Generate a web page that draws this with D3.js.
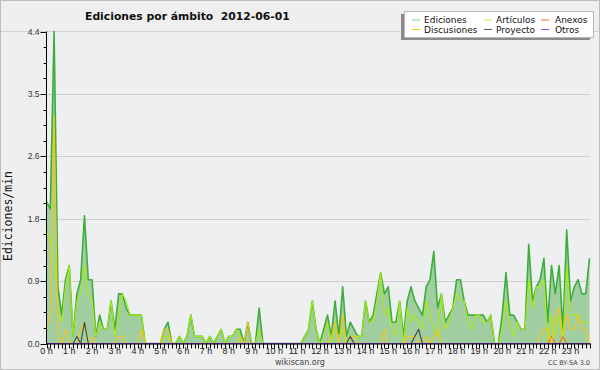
<!DOCTYPE html>
<html><head><meta charset="utf-8">
<script src="https://cdn.jsdelivr.net/npm/d3@7"></script>
<style>html,body{margin:0;padding:0;background:#efefef;} svg{display:block;}</style>
</head><body><svg id="c" width="600" height="370"></svg>
<script>
const chartTitle = "Ediciones por ámbito  2012-06-01";
const yAxisTitle = "Ediciones/min";
const hourLabels = ["0 h","1 h","2 h","3 h","4 h","5 h","6 h","7 h","8 h","9 h","10 h","11 h","12 h","13 h","14 h","15 h","16 h","17 h","18 h","19 h","20 h","21 h","22 h","23 h"];
const yTickLabels = ["0.0","0.9","1.8","2.6","3.5","4.4"];
const yMax = 4.4;
const seriesNames = ["Ediciones","Artículos","Anexos","Discusiones","Proyecto","Otros"];

// 10-minute slots, 144 per day (edits per minute)
const ediciones = [
2.0,1.9,4.4,0.8,0.4,0.9,1.1,0.1,0.7,0.9,
1.8,0.9,0.9,0.1,0.4,0.2,0.2,0.6,0.2,0.7,
0.7,0.5,0.4,0.4,0.4,0.4,0,0,0,0,
0,0.2,0.3,0,0,0.1,0,0.1,0.4,0.1,
0.1,0.1,0,0.1,0,0.1,0.2,0,0.1,0.1,
0.2,0.2,0,0.3,0,0,0.5,0,0,0,
0,0,0,0,0,0,0,0,0.1,0.2,
0.6,0.2,0,0.2,0.4,0.1,0.6,0.1,0.8,0.1,
0.3,0.2,0.1,0.1,0.6,0.3,0.4,0.7,1.0,0.7,
0.8,0.3,0.3,0.6,0.1,0.6,0.8,0.6,0.5,0.4,
0.8,0.9,1.3,0.5,0.7,0.3,0.4,0.5,0.9,0.9,
0.6,0.4,0.4,0.4,0.4,0.4,0.3,0.4,0,0,
0.4,1.0,0.4,0.4,0.3,0.2,0.2,1.4,0.6,0.8,
0.9,1.2,0.3,1.1,0.7,1.1,0.2,1.6,0.6,0.8,
0.9,0.7,0.7,1.2];
const articulos = [
1.6,1.4,1.2,0.5,0.3,0.8,1.1,0.1,0.6,0.7,
1.1,0.7,0.6,0.1,0.3,0.2,0.2,0.6,0.1,0.4,
0.7,0.6,0.4,0.4,0.4,0.4,0,0,0,0,
0,0.1,0.1,0,0,0.1,0,0.1,0.4,0.1,
0.1,0.1,0,0.1,0,0.1,0.2,0,0.1,0.1,
0.2,0.1,0,0,0,0,0.2,0,0,0,
0,0,0,0,0,0,0,0,0.1,0.2,
0.6,0.2,0,0.1,0.3,0,0.2,0.1,0.2,0,
0.1,0.1,0.1,0.1,0.6,0.3,0.3,0.6,1.0,0.4,
0.5,0.2,0.1,0.6,0,0.5,0.3,0.4,0.3,0.2,
0.6,0.4,0.2,0.1,0.7,0.2,0.3,0.5,0.7,0.6,
0.6,0.3,0.2,0.4,0.4,0.3,0.3,0.4,0,0,
0.2,0.6,0.3,0.1,0.3,0.2,0.2,0.9,0.5,0.8,
0.8,0.9,0,0.4,0.1,0.4,0,1.1,0.4,0.4,
0.4,0.3,0.3,0.3];
const anexos = [
0,0,0,0,0,0,0,0,0,0,
0,0,0,0,0,0,0,0,0,0,
0,0,0,0,0,0,0,0,0,0,
0,0,0,0,0,0,0,0,0,0,
0,0,0,0,0,0,0,0,0,0,
0,0,0,0,0,0,0,0,0,0,
0,0,0,0,0,0,0,0,0,0,
0,0,0,0,0,0,0,0,0,0,
0,0,0,0,0,0,0,0,0,0,
0,0,0,0,0,0,0,0,0,0,
0,0,0,0,0,0,0,0,0,0,
0,0,0,0,0,0,0,0,0,0,
0,0,0,0,0,0,0,0,0,0,
0,0,0,0.1,0,0,0.1,0,0,0,
0,0,0,0];
const discusiones = [
0.2,0.4,3.2,0.1,0,0.2,0,0,0,0.2,
0.3,0,0.1,0,0,0,0,0,0,0.1,
0.1,0,0,0,0,0.2,0,0,0,0,
0,0.2,0.2,0,0,0,0,0,0,0,
0,0,0,0,0,0,0,0,0,0,
0,0.1,0,0.3,0,0,0,0,0,0,
0,0,0,0,0,0,0,0,0,0,
0,0,0,0,0,0.1,0.3,0,0.4,0,
0.1,0.1,0,0,0,0,0,0,0,0.2,
0,0,0,0,0,0.1,0.1,0.1,0,0,
0.1,0,0.1,0.2,0,0,0,0,0,0,
0,0,0,0,0,0,0,0,0,0,
0,0,0,0,0,0,0,0,0,0,
0.1,0.2,0.2,0,0.4,0.5,0.1,0.4,0.2,0.2,
0.4,0.2,0.2,0];
const proyecto = [
0,0,0,0,0,0,0,0,0.1,0,
0.3,0,0,0,0,0,0,0,0,0,
0,0,0,0,0,0,0,0,0,0,
0,0,0,0,0,0,0,0,0,0,
0,0,0,0,0,0,0,0,0,0,
0,0,0,0,0,0,0,0,0,0,
0,0,0,0,0,0,0,0,0,0,
0,0,0,0,0,0,0,0,0,0,
0.1,0,0,0,0,0,0,0,0,0,
0,0,0,0,0,0,0,0.1,0.2,0,
0,0,0,0,0,0,0,0,0,0,
0,0,0,0,0,0,0,0,0,0,
0,0,0,0,0,0,0,0,0,0,
0,0,0,0,0,0,0,0,0,0,
0,0,0,0];
const otros = [
0,0,0,0,0,0,0,0,0,0,
0,0,0,0,0,0,0,0,0,0,
0,0,0,0,0,0,0,0,0,0,
0,0,0,0,0,0,0,0,0,0,
0,0,0,0,0,0,0,0,0,0,
0,0,0,0,0,0,0,0,0,0,
0,0,0,0,0,0,0,0,0,0,
0,0,0,0,0,0,0,0,0,0,
0,0,0,0,0,0,0,0,0,0,
0,0,0,0,0,0,0,0,0,0,
0,0,0,0,0,0,0,0,0,0,
0,0,0,0,0,0,0,0,0,0,
0,0,0,0,0,0,0,0,0,0,
0,0,0,0,0,0,0,0,0,0,
0,0,0,0];

(function () {
const svg = d3.select("#c");
const W = 600, H = 370;
const pLeft = 46.5, pRight = 589.5, pTop = 31.5, pBottom = 343.5;
const n = ediciones.length;
const x = d3.scaleLinear().domain([0, n - 1]).range([pLeft, pRight]);
const y = d3.scaleLinear().domain([0, yMax]).range([pBottom, pTop]);

svg.append("rect").attr("width", W).attr("height", H).attr("fill", "#efefef");
svg.append("rect").attr("x", pLeft).attr("y", pTop).attr("width", pRight - pLeft).attr("height", pBottom - pTop).attr("fill", "#eeeff1");
svg.append("line").attr("x1", 0).attr("x2", W).attr("y1", pTop).attr("y2", pTop).attr("stroke", "#d2d2d2");

const majorVals = yTickLabels.map((_, k) => k * yMax / (yTickLabels.length - 1));
svg.append("g").selectAll("line").data(majorVals.slice(1, -1)).join("line")
  .attr("x1", pLeft).attr("x2", pRight)
  .attr("y1", d => Math.round(y(d)) + 0.5).attr("y2", d => Math.round(y(d)) + 0.5)
  .attr("stroke", "#cfcfcf");

const area = d3.area().x((d, i) => x(i)).y0(y(0)).y1(d => y(d));
const line = d3.line().x((d, i) => x(i)).y(d => y(d));
svg.append("path").datum(ediciones).attr("d", area).attr("fill", "#a1cea1");
svg.append("path").datum(ediciones).attr("d", line).attr("fill", "none").attr("stroke", "#3dae3d").attr("stroke-width", 1.6).attr("stroke-linejoin", "round");

const lineSeries = [
  {data: articulos, color: "#aaea12"},
  {data: anexos, color: "#f26a35"},
  {data: discusiones, color: "#f8c614"},
  {data: proyecto, color: "#444444"},
  {data: otros, color: "#9a3cf0"}
];
lineSeries.forEach(s => {
  svg.append("path").datum(s.data).attr("d", line).attr("fill", "none")
    .attr("stroke", s.color).attr("stroke-width", 1.1).attr("stroke-linejoin", "round");
});

const axisG = svg.append("g");
axisG.append("line").attr("x1", pLeft).attr("x2", pLeft).attr("y1", pTop).attr("y2", pBottom + 0.5).attr("stroke", "#000");
axisG.append("line").attr("x1", pLeft).attr("x2", pRight + 1).attr("y1", pBottom + 0.5).attr("y2", pBottom + 0.5).attr("stroke", "#000");
const minorVals = d3.range(0, 21).map(k => k * yMax / 20);
axisG.selectAll(".ymin").data(minorVals).join("line").attr("class", "ymin")
  .attr("x1", pLeft - 3).attr("x2", pLeft)
  .attr("y1", d => Math.round(y(d)) + 0.5).attr("y2", d => Math.round(y(d)) + 0.5).attr("stroke", "#000");
axisG.selectAll(".ymaj").data(majorVals).join("line").attr("class", "ymaj")
  .attr("x1", pLeft - 6).attr("x2", pLeft)
  .attr("y1", d => Math.round(y(d)) + 0.5).attr("y2", d => Math.round(y(d)) + 0.5).attr("stroke", "#000");
axisG.selectAll(".ylab").data(majorVals).join("text").attr("class", "ylab")
  .attr("x", pLeft - 7).attr("y", d => y(d) + 3)
  .attr("text-anchor", "end").attr("font-family", "Liberation Sans, Arial, sans-serif").attr("font-size", 8.5).attr("fill", "#333")
  .text((d, i) => yTickLabels[i]);
axisG.selectAll(".xt").data(d3.range(n)).join("line").attr("class", "xt")
  .attr("x1", d => Math.round(x(d)) + 0.5).attr("x2", d => Math.round(x(d)) + 0.5)
  .attr("y1", pBottom).attr("y2", pBottom + 5).attr("stroke", "#000");
axisG.selectAll(".xl").data(hourLabels).join("text").attr("class", "xl")
  .attr("x", (d, i) => x(i * 6)).attr("y", pBottom + 10.5)
  .attr("text-anchor", "middle").attr("font-family", "Liberation Sans, Arial, sans-serif").attr("font-size", 9).attr("fill", "#222")
  .text(d => d);

svg.append("text").attr("transform", "translate(12,216) rotate(-90)")
  .attr("text-anchor", "middle").attr("font-family", "DejaVu Sans Mono, monospace").attr("font-size", 11.5).attr("fill", "#111")
  .text(yAxisTitle);

svg.append("text").attr("x", 85).attr("y", 20).style("white-space", "pre")
  .attr("font-family", "DejaVu Sans, sans-serif").attr("font-weight", "bold").attr("font-size", 10.8).attr("fill", "#111")
  .text(chartTitle);

const lg = svg.append("g");
lg.append("rect").attr("x", 401).attr("y", 14).attr("width", 189).attr("height", 26).attr("fill", "#8a8a8a");
lg.append("rect").attr("x", 404.5).attr("y", 11.5).attr("width", 189).attr("height", 26).attr("fill", "#ffffff").attr("stroke", "#b8b8b8");
const legendColors = ["#7fd27f", "#c4ee2a", "#f26a35", "#f8c614", "#555555", "#9a3cf0"];
const colX = [412, 484, 541], textX = [424, 496, 555], rowY = [20, 29.5];
seriesNames.forEach((name, i) => {
  const c = i % 3, r = Math.floor(i / 3);
  lg.append("line").attr("x1", colX[c]).attr("x2", colX[c] + 8).attr("y1", rowY[r]).attr("y2", rowY[r])
    .attr("stroke", legendColors[i]).attr("stroke-width", 1);
  lg.append("text").attr("x", textX[c]).attr("y", rowY[r] + 3.3)
    .attr("font-family", "DejaVu Sans, sans-serif").attr("font-size", 9).attr("fill", "#111").text(name);
});

svg.append("text").attr("x", 300).attr("y", 365).attr("text-anchor", "middle")
  .attr("font-family", "DejaVu Sans, sans-serif").attr("font-size", 8).attr("fill", "#444").text("wikiscan.org");
svg.append("text").attr("x", 590).attr("y", 365).attr("text-anchor", "end")
  .attr("font-family", "DejaVu Sans, sans-serif").attr("font-size", 6.5).attr("fill", "#444").text("CC BY-SA 3.0");
svg.append("rect").attr("x", 0.5).attr("y", 0.5).attr("width", W - 1).attr("height", H - 1).attr("fill", "none").attr("stroke", "#bdbdbd");
})();
</script></body></html>
